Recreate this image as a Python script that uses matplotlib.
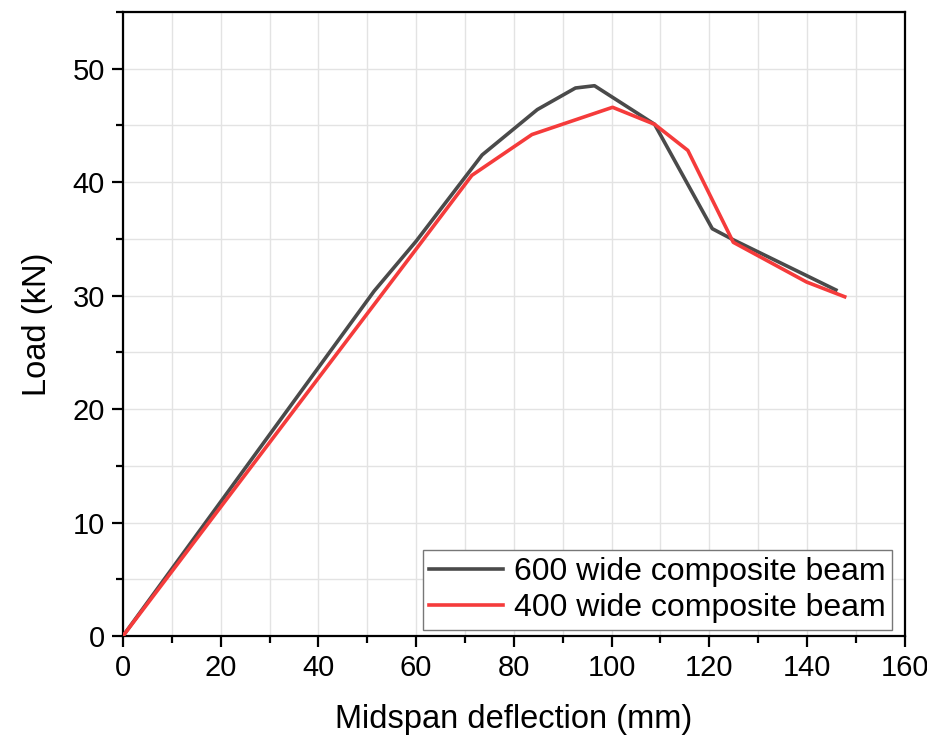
import matplotlib
matplotlib.use("Agg")
import matplotlib.pyplot as plt
from matplotlib.ticker import MultipleLocator

plt.rcParams['font.family'] = ['Liberation Sans', 'DejaVu Sans']

# Data
x600 = [0, 51.4, 60, 73.5, 84.8, 92.6, 96.5, 108.8, 120.6, 125.0, 145.9]
y600 = [0, 30.4, 34.8, 42.4, 46.4, 48.3, 48.5, 45.1, 35.9, 34.9, 30.5]

x400 = [0, 60, 71.4, 83.7, 100.2, 108.8, 115.6, 124.9, 139.9, 147.7]
y400 = [0, 34.1, 40.6, 44.2, 46.6, 45.1, 42.8, 34.7, 31.2, 29.9]

labels = ["600 wide composite beam", "400 wide composite beam"]
xlabel = "Midspan deflection (mm)"
ylabel = "Load (kN)"

fig = plt.figure(figsize=(9.28, 7.36), dpi=100)
ax = fig.add_axes([0.1325, 0.1359, 0.8425, 0.8478])

ax.plot(x600, y600, color='#4a4a4a', lw=2.6, label=labels[0], zorder=3)
ax.plot(x400, y400, color='#f53b3b', lw=2.6, label=labels[1], zorder=3)

ax.set_xlim(0, 160)
ax.set_ylim(0, 55)
ax.xaxis.set_major_locator(MultipleLocator(20))
ax.xaxis.set_minor_locator(MultipleLocator(10))
ax.yaxis.set_major_locator(MultipleLocator(10))
ax.yaxis.set_minor_locator(MultipleLocator(5))

ax.grid(True, which='both', color='#e3e3e3', lw=1.0, zorder=0)
ax.set_axisbelow(True)

for s in ax.spines.values():
    s.set_linewidth(1.6)
ax.tick_params(which='major', direction='out', length=8, width=1.6, labelsize=21, pad=5)
ax.tick_params(which='minor', direction='out', length=5, width=1.6)

ax.set_xlabel(xlabel, fontsize=23.5, labelpad=16)
ax.set_ylabel(ylabel, fontsize=23.5, labelpad=14)

leg = ax.legend(loc='lower right', fontsize=23, frameon=True, fancybox=False,
                edgecolor='#777777', framealpha=1, handlelength=2.3,
                borderpad=0.2, labelspacing=0.2, handletextpad=0.35,
                borderaxespad=0.2, bbox_to_anchor=(0.992, 0.0))
leg.get_frame().set_linewidth(1.0)

fig.savefig("out.png", dpi=100)
